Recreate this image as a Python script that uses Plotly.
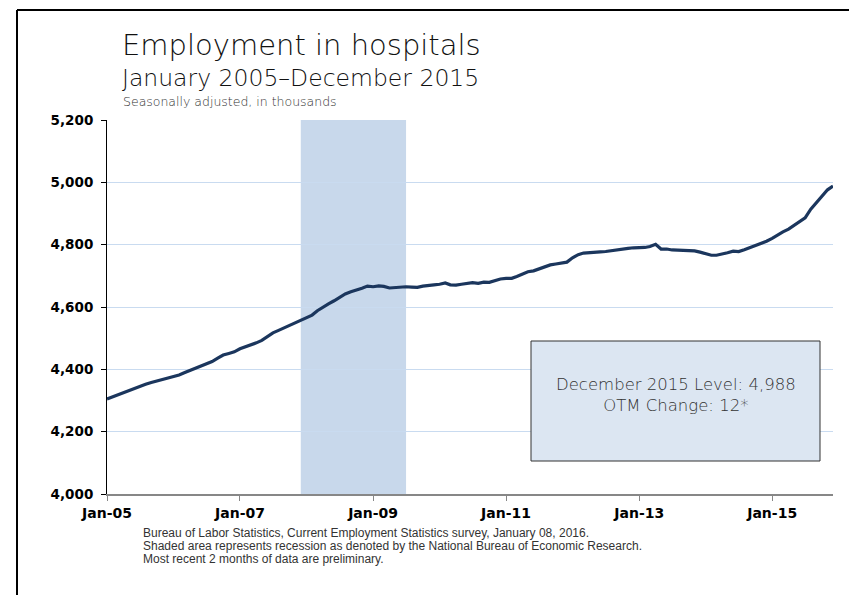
import plotly.graph_objects as go
import pandas as pd

# ---- data (thousands, seasonally adjusted), Jan 2005 .. Dec 2015 ----
months = pd.date_range("2005-01-01", "2015-12-01", freq="MS")

v2005 = [4305, 4312, 4318, 4325, 4332, 4340, 4347, 4352, 4358, 4363, 4368, 4372]
v2006 = [4376, 4382, 4389, 4396, 4403, 4410, 4418, 4425, 4436, 4446, 4451, 4456]
v2007 = [4466, 4472, 4478, 4485, 4493, 4505, 4517, 4525, 4533, 4542, 4549, 4557]
v2008 = [4565, 4574, 4588, 4600, 4610, 4620, 4632, 4642, 4649, 4654, 4660, 4667]
v2009 = [4665, 4668, 4666, 4661, 4663, 4664, 4665, 4664, 4663, 4667, 4670, 4671]
v2010 = [4673, 4677, 4671, 4670, 4673, 4676, 4678, 4676, 4680, 4679, 4684, 4690]
v2011 = [4692, 4692, 4698, 4706, 4713, 4716, 4722, 4727, 4735, 4738, 4741, 4744]
v2012 = [4758, 4768, 4773, 4775, 4776, 4777, 4778, 4781, 4782, 4786, 4788, 4790]
v2013 = [4790, 4791, 4794, 4801, 4786, 4786, 4783, 4782, 4780, 4779, 4780, 4776]
v2014 = [4770, 4766, 4766, 4769, 4774, 4779, 4778, 4784, 4791, 4797, 4803, 4811]
v2015 = [4820, 4832, 4841, 4850, 4862, 4877, 4886, 4914, 4934, 4954, 4976, 4988]

values = v2005 + v2006 + v2007 + v2008 + v2009 + v2010 + v2011 + v2012 + v2013 + v2014 + v2015

tick_dates = ["2005-01-01", "2007-01-01", "2009-01-01", "2011-01-01", "2013-01-01", "2015-01-01"]
tick_labels = ["Jan-05", "Jan-07", "Jan-09", "Jan-11", "Jan-13", "Jan-15"]
y_ticks = [4000, 4200, 4400, 4600, 4800, 5000, 5200]

recession_start = "2007-12-01"
recession_end = "2009-07-01"

title1 = "Employment in hospitals"
title2 = "January 2005\u2013December 2015"
subtitle = "Seasonally adjusted, in thousands"
box_text = "December 2015 Level: 4,988<br>OTM Change: 12*"
footer_lines = [
    "Bureau of Labor Statistics, Current Employment Statistics survey, January 08, 2016.",
    "Shaded area represents recession as denoted by the National Bureau of Economic Research.",
    "Most recent 2 months of data are preliminary.",
]

# ---- geometry helpers (pixel -> paper) ----
W, H = 849, 595
L, R, T, B = 107, 16, 120, 101
PW, PH = W - L - R, H - T - B


def px(x):
    return (x - L) / PW


def py(y):
    return (H - B - y) / PH


THIN = "DejaVu Sans"
BOLD = "DejaVu Sans"

fig = go.Figure()
fig.add_trace(go.Scatter(x=months, y=values, mode="lines",
                         line=dict(color="#1b365d", width=3.2),
                         hoverinfo="skip", showlegend=False))

fig.update_layout(
    width=W, height=H, autosize=False,
    margin=dict(l=L, r=R, t=T, b=B, pad=0),
    paper_bgcolor="white", plot_bgcolor="white",
    showlegend=False,
    xaxis=dict(type="date", range=[months[0], months[-1]],
               tickvals=tick_dates, ticktext=tick_labels,
               showgrid=False, zeroline=False,
               showline=True, linecolor="#878787", linewidth=2,
               ticks="outside", ticklen=5, tickcolor="#878787", tickwidth=1,
               tickfont=dict(family=BOLD, size=14, color="black", weight="bold")),
    yaxis=dict(range=[4000, 5200], tickvals=y_ticks, tickformat=",",
               showgrid=True, gridcolor="#c9dbf0", gridwidth=1,
               zeroline=False,
               showline=True, linecolor="black", linewidth=1,
               ticks="outside", ticklen=5, tickcolor="black", tickwidth=1,
               ticklabelstandoff=5,
               tickfont=dict(family=BOLD, size=13.5, color="black", weight="bold")),
)

# recession shading
fig.add_shape(type="rect", xref="x", yref="paper",
              x0=recession_start, x1=recession_end, y0=0, y1=1,
              fillcolor="#c8d8eb", line=dict(width=0), layer="below")

# outer frame (left and top edges visible)
fig.add_shape(type="line", xref="paper", yref="paper",
              x0=px(17), x1=px(17), y0=py(10), y1=py(600),
              line=dict(color="black", width=2))
fig.add_shape(type="line", xref="paper", yref="paper",
              x0=px(17), x1=px(860), y0=py(10), y1=py(10),
              line=dict(color="black", width=2))

# info box
fig.add_shape(type="rect", xref="paper", yref="paper",
              x0=px(531), x1=px(820), y0=py(461), y1=py(341),
              fillcolor="#dce6f2", line=dict(color="#333333", width=1))

fig.add_annotation(xref="paper", yref="paper", x=px(676), y=py(395),
                   text=box_text, showarrow=False, xanchor="center", yanchor="middle",
                   align="center",
                   font=dict(family=THIN, size=16.5, color="#333333", weight=200))

# titles
fig.add_annotation(xref="paper", yref="paper", x=px(120), y=py(45),
                   text=title1, showarrow=False, xanchor="left", yanchor="middle",
                   font=dict(family=THIN, size=29, color="#111111", weight=200))
fig.add_annotation(xref="paper", yref="paper", x=px(120), y=py(78.5),
                   text=title2, showarrow=False, xanchor="left", yanchor="middle",
                   font=dict(family=THIN, size=23.5, color="#111111", weight=200))
fig.add_annotation(xref="paper", yref="paper", x=px(121), y=py(101.5),
                   text=subtitle, showarrow=False, xanchor="left", yanchor="middle",
                   font=dict(family=THIN, size=12.5, color="#333333", weight=200))

# footer
for i, line in enumerate(footer_lines):
    fig.add_annotation(xref="paper", yref="paper", x=px(141), y=py(533 + 12.8 * i),
                       text=line, showarrow=False, xanchor="left", yanchor="middle",
                       align="left",
                       font=dict(family="Liberation Sans Narrow, Liberation Sans", size=12,
                                 color="#333333"))

fig.write_html("out.html", config={"displayModeBar": False},
               post_script="document.body.style.margin='0px';")
